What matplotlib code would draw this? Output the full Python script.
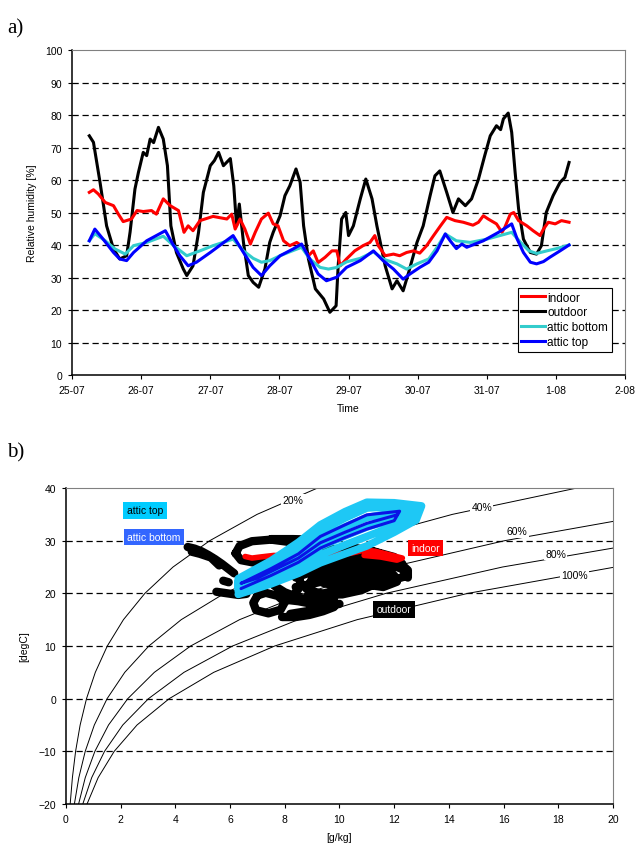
import numpy as np
import matplotlib
matplotlib.use('Agg')
import matplotlib.pyplot as plt

plt.rcParams['font.family'] = ['Liberation Sans', 'DejaVu Sans']

nan = np.nan

# ---------- a) relative humidity time series (x = days since 25-07 00:00) ----------
day_labels = ['25-07', '26-07', '27-07', '28-07', '29-07', '30-07', '31-07', '1-08', '2-08']

outdoor_d = [0.25, 0.31, 0.405, 0.50, 0.60, 0.69, 0.79, 0.84, 0.91, 0.96, 1.03, 1.08, 1.13, 1.18, 1.25,
             1.32, 1.38, 1.43, 1.51, 1.61, 1.66, 1.75, 1.83, 1.90, 2.00, 2.06, 2.12, 2.19, 2.24, 2.29,
             2.34, 2.38, 2.42, 2.48, 2.55, 2.62, 2.70, 2.74, 2.79, 2.86, 2.91, 3.01, 3.08, 3.15, 3.24,
             3.30, 3.35, 3.42, 3.52, 3.64, 3.73, 3.82, 3.85, 3.90, 3.96, 4.00, 4.07, 4.17, 4.25, 4.34,
             4.41, 4.53, 4.63, 4.70, 4.79, 4.87, 4.99, 5.08, 5.18, 5.25, 5.32, 5.42, 5.51, 5.59, 5.69,
             5.78, 5.88, 5.97, 6.05, 6.14, 6.20, 6.24, 6.31, 6.36, 6.41, 6.46, 6.53, 6.63, 6.72, 6.79,
             6.86, 6.96, 7.06, 7.13, 7.19]
outdoor_rh = [73.6, 71.6, 59.3, 45.9, 38.8, 35.7, 36.7, 44.0, 57.2, 62.3, 68.5, 67.5, 72.6, 71.5, 76.2,
              72.6, 64.4, 45.9, 37.7, 32.6, 30.6, 33.6, 43.9, 56.2, 64.4, 66.0, 68.5, 64.4, 65.5, 66.6,
              58.2, 45.9, 52.6, 40.8, 30.6, 28.5, 27.0, 29.5, 32.6, 40.8, 43.9, 49.0, 55.2, 58.2, 63.4,
              59.3, 45.9, 35.7, 26.5, 23.4, 19.3, 21.3, 33.6, 48.0, 50.0, 42.9, 45.9, 54.2, 60.3, 54.2,
              45.9, 33.6, 26.5, 29.0, 25.9, 31.6, 40.8, 45.9, 55.2, 61.3, 62.8, 56.2, 50.0, 54.2, 52.1,
              54.2, 60.3, 67.5, 73.6, 76.7, 75.5, 78.8, 80.6, 74.7, 62.3, 51.1, 41.8, 37.7, 37.2, 39.8,
              50.0, 55.2, 59.3, 60.8, 65.4]

indoor_d = [0.25, 0.31, 0.38, 0.48, 0.60, 0.67, 0.74, 0.86, 0.94, 1.03, 1.15, 1.22, 1.32, 1.42, 1.54,
            1.62, 1.68, 1.75, 1.85, 2.04, 2.24, 2.31, 2.36, 2.43, 2.50, 2.58, 2.65, 2.74, 2.84, 2.91,
            2.98, 3.06, 3.15, 3.25, 3.32, 3.42, 3.49, 3.56, 3.66, 3.76, 3.83, 3.88, 3.97, 4.09, 4.21,
            4.31, 4.38, 4.43, 4.53, 4.65, 4.74, 4.84, 4.94, 5.03, 5.13, 5.23, 5.33, 5.42, 5.54, 5.66,
            5.80, 5.88, 5.95, 6.02, 6.14, 6.22, 6.26, 6.34, 6.39, 6.46, 6.58, 6.67, 6.77, 6.82, 6.89,
            6.99, 7.08, 7.19]
indoor_rh = [56.2, 57.0, 55.7, 53.1, 52.1, 49.5, 47.2, 48.0, 50.6, 50.3, 50.6, 49.5, 54.2, 52.1, 50.6,
             43.9, 45.9, 44.4, 47.5, 48.8, 48.0, 49.5, 44.9, 48.0, 44.9, 40.3, 43.9, 48.0, 49.8, 46.5,
             45.9, 41.3, 39.8, 40.8, 39.8, 36.7, 38.2, 34.6, 36.2, 38.2, 38.2, 33.6, 35.7, 38.2, 39.8,
             40.8, 42.9, 39.8, 36.7, 37.2, 36.7, 37.7, 38.2, 37.5, 39.8, 42.9, 45.9, 48.5, 47.5, 47.0,
             46.1, 47.0, 49.0, 48.0, 46.5, 43.9, 45.4, 49.5, 50.0, 47.5, 45.9, 44.4, 42.9, 44.9, 47.0,
             46.5, 47.5, 47.0]

attic_bottom_d = [0.25, 0.33, 0.48, 0.62, 0.77, 0.89, 1.08, 1.32, 1.47, 1.66, 1.85, 2.04, 2.33, 2.48,
                  2.62, 2.74, 2.86, 3.01, 3.15, 3.32, 3.44, 3.59, 3.71, 3.83, 3.97, 4.17, 4.36, 4.50,
                  4.70, 4.84, 4.99, 5.16, 5.28, 5.40, 5.56, 5.76, 6.00, 6.19, 6.36, 6.49, 6.61, 6.72,
                  6.87, 7.01, 7.19]
attic_bottom_rh = [41.3, 43.5, 41.3, 38.8, 37.2, 39.8, 40.8, 42.7, 39.8, 36.7, 38.2, 39.8, 41.8, 38.2,
                   35.9, 34.7, 35.2, 36.7, 37.9, 39.3, 35.7, 33.1, 32.6, 33.1, 34.8, 35.9, 37.9, 35.7,
                   34.2, 32.6, 34.2, 35.7, 39.3, 43.4, 41.3, 40.8, 41.8, 42.9, 43.9, 40.8, 38.2, 37.4,
                   38.2, 38.9, 40.0]

attic_top_d = [0.25, 0.33, 0.45, 0.60, 0.69, 0.79, 0.89, 1.08, 1.35, 1.47, 1.56, 1.68, 1.80, 2.00,
               2.33, 2.48, 2.62, 2.74, 2.86, 3.01, 3.20, 3.32, 3.44, 3.56, 3.68, 3.83, 3.97, 4.17,
               4.36, 4.50, 4.65, 4.79, 4.89, 5.03, 5.16, 5.28, 5.40, 5.47, 5.56, 5.64, 5.71, 5.95,
               6.17, 6.36, 6.44, 6.53, 6.63, 6.72, 6.82, 6.91, 7.06, 7.19]
attic_top_rh = [41.3, 44.9, 41.8, 37.7, 35.7, 35.2, 37.7, 41.3, 44.4, 39.8, 36.7, 33.6, 34.7, 37.7,
                42.9, 37.7, 33.1, 30.6, 33.6, 36.7, 38.8, 40.3, 35.7, 31.1, 29.0, 30.1, 33.1, 35.2,
                38.2, 35.2, 32.6, 29.5, 31.1, 33.1, 34.7, 38.2, 43.4, 41.3, 38.9, 40.3, 39.3, 41.3,
                43.9, 46.5, 41.8, 37.7, 34.7, 34.2, 34.9, 36.2, 38.2, 40.0]

# ---------- b) psychrometric chart ----------
rh_temps = [-20, -15, -10, -5, 0, 5, 10, 15, 20, 25, 30, 35, 40]
rh_curves = {
    '20%': [0.154, 0.235, 0.352, 0.518, 0.751, 1.073, 1.511, 2.101, 2.885, 3.914, 5.257, 6.988, 9.198],
    '40%': [0.308, 0.470, 0.704, 1.037, 1.504, 2.150, 3.030, 4.214, 5.795, 7.882, 10.60, 14.13, 18.68],
    '60%': [0.462, 0.705, 1.057, 1.556, 2.260, 3.231, 4.558, 6.346, 8.733, 11.89, 16.04, 21.45],
    '80%': [0.616, 0.940, 1.410, 2.077, 3.017, 4.315, 6.092, 8.488, 11.70, 15.96, 21.58],
    '100%': [0.771, 1.176, 1.764, 2.598, 3.775, 5.403, 7.631, 10.646, 14.698, 20.08],
}
rh_label_pos = {'20%': (8.3, 37.7), '40%': (15.2, 36.4), '60%': (16.5, 31.8),
                '80%': (17.9, 27.5), '100%': (18.6, 23.5)}

outdoor_x = [4.45, 4.7, 4.95, 5.2, 5.45, 5.7, 5.95, 6.15, nan,
             4.6, 4.9, 5.3, 5.6, nan,
             6.2, 6.35, 6.8, 7.5, 8.1, 8.4, 8.1, 7.5, 6.9, 6.4, 6.2, nan,
             7.5, 8.3, 9.0, nan,
             5.75, 5.95, nan,
             5.5, 5.9, 6.3, 6.6, nan,
             7.0, 6.85, 6.95, 7.4, 7.85, 8.0, 7.75, 7.3, 7.0, nan,
             7.9, 8.4, 8.9, 9.4, 9.8, nan,
             8.2, 8.8, 9.4, 10.0, nan,
             8.3, 8.6, 8.5, 8.8, 9.5, 10.3, 11.0, 11.7, 12.3, 12.45, 12.0, 11.4, 10.8, 10.1, 9.4, 8.8,
             9.0, 9.6, 10.4, 11.2, 11.7, 11.2, 10.5, 9.9, 9.6, 10.0, 10.8, nan,
             9.0, 9.8, 10.6, 11.3, 12.0, 12.3, nan,
             8.4, 9.0, 9.4, 10.2, 10.8, 11.6, 12.1, nan,
             7.6, 8.0, 8.6, 9.2, 9.8, nan,
             8.3, 8.9, 9.6, 10.4, 11.2, 11.8, 12.2, 12.5, 12.5, nan,
             8.4, 9.2, 10.0, 10.9, 11.5, 11.9, nan,
             8.4, 9.0, 9.8, 10.6, 11.3, 12.0, nan,
             8.8, 9.6, 10.3, 10.9, nan,
             8.0, 8.5, 9.0]
outdoor_t = [28.8, 28.5, 28.0, 27.3, 26.5, 25.6, 24.6, 23.8, nan,
             27.9, 27.5, 26.8, 25.3, nan,
             27.6, 29.0, 29.9, 30.2, 29.8, 28.8, 27.4, 26.2, 25.8, 26.3, 27.6, nan,
             30.3, 30.3, 30.2, nan,
             22.4, 22.1, nan,
             20.3, 20.0, 19.7, 19.9, nan,
             19.6, 18.2, 16.8, 16.2, 16.9, 18.3, 19.5, 20.1, 19.6, nan,
             15.5, 15.5, 15.9, 16.6, 17.4, nan,
             16.1, 16.6, 17.3, 18.0, nan,
             19.5, 21.5, 23.5, 25.0, 26.4, 27.3, 27.0, 25.8, 24.6, 23.3, 22.6, 22.0, 20.6, 19.8, 19.8, 20.8,
             22.8, 24.2, 25.2, 24.6, 23.6, 22.8, 22.5, 21.5, 22.5, 23.6, 23.8, nan,
             27.6, 28.4, 28.6, 27.9, 26.9, 25.6, nan,
             24.5, 24.0, 22.0, 21.0, 21.8, 21.2, 22.2, nan,
             21.5, 20.2, 19.0, 18.5, 19.0, nan,
             25.0, 26.2, 27.6, 28.4, 28.0, 27.0, 25.8, 24.4, 23.0, nan,
             23.0, 24.5, 26.0, 26.2, 25.3, 24.0, nan,
             21.2, 21.8, 22.8, 23.0, 23.5, 23.4, nan,
             19.3, 20.2, 20.2, 21.0, nan,
             18.8, 18.5, 18.0]

indoor_x = [6.55, 6.8, 7.1, 7.6, 8.5, 9.5, 10.4, 10.9, 11.3, 11.7, 12.0, 12.3, 12.1, 11.5, 10.9]
indoor_t = [27.0, 26.7, 26.9, 27.2, 27.0, 27.3, 27.6, 28.2, 28.0, 27.5, 27.1, 26.7, 26.3, 26.9, 27.2]

# attic top: daily loops, forward and back passes across the band
atop_x = [6.3, 7.5, 8.5, 9.3, 10.2, 11.0, 12.0, 12.8,
          13.0, 12.0, 11.0, 10.2, 9.3, 8.5, 7.5, 6.3,
          6.3, 7.5, 8.5, 9.3, 10.2, 11.0, 12.0, 12.8,
          12.8, 12.0, 11.0, 10.2, 9.3, 8.5, 7.5, 6.3,
          6.3, 7.5, 8.5, 9.3, 10.2, 11.0, 12.0, 12.8,
          12.8, 12.0, 11.0, 10.2, 9.3, 8.5, 7.5, 6.4]
atop_t = [19.8, 21.8, 23.8, 25.8, 27.5, 29.0, 31.6, 33.9,
          36.6, 37.2, 37.3, 35.5, 33.0, 29.7, 26.2, 22.8,
          20.4, 22.75, 25.05, 27.3, 29.2, 30.8, 32.8, 34.5,
          36.4, 36.5, 36.2, 34.3, 31.9, 28.4, 25.5, 22.3,
          21.05, 23.6, 26.1, 28.9, 30.9, 32.6, 34.1, 35.2,
          35.8, 35.3, 34.4, 32.6, 30.4, 27.2, 24.5, 21.7]

# attic bottom: narrower loops inside the attic-top band
abot_x = [6.4, 7.5, 8.5, 9.3, 10.2, 11.0, 12.0,
          12.2, 11.0, 10.2, 9.3, 8.5, 7.5, 6.4,
          7.0, 8.5, 9.3, 10.2, 11.0, 12.1]
abot_t = [20.9, 23.4, 25.9, 28.6, 30.6, 32.2, 33.8,
          35.6, 34.9, 33.0, 30.8, 27.5, 24.7, 21.9,
          22.9, 26.7, 29.6, 31.6, 33.3, 34.9]

box_labels = [('attic top', 2.89, 35.8, '#00CCFF', 'black'),
              ('attic bottom', 3.22, 30.7, '#3366FF', 'white'),
              ('indoor', 13.15, 28.6, '#FF0000', 'white'),
              ('outdoor', 12.0, 17.0, 'black', 'white')]

fig = plt.figure(figsize=(6.38, 8.53), dpi=100)
fs = 7.5
dash = (0, (5, 3))

# ---------- a) ----------
ax1 = fig.add_axes([0.1129, 0.5592, 0.8668, 0.381])
ax1.plot(outdoor_d, outdoor_rh, color='black', lw=2.2, label='outdoor', zorder=3)
ax1.plot(indoor_d, indoor_rh, color='#FF0000', lw=2.2, label='indoor', zorder=4)
ax1.plot(attic_bottom_d, attic_bottom_rh, color='#33CCCC', lw=2.2, label='attic bottom', zorder=5)
ax1.plot(attic_top_d, attic_top_rh, color='#0000FF', lw=2.2, label='attic top', zorder=6)
ax1.set_xlim(0, 8)
ax1.set_ylim(0, 100)
ax1.set_xticks(range(len(day_labels)))
ax1.set_xticklabels(day_labels)
ax1.set_yticks(range(0, 101, 10))
for v in range(10, 100, 10):
    ax1.axhline(v, color='black', lw=0.9, linestyle=dash, zorder=1)
ax1.axhline(100, color='#808080', lw=1.2, linestyle=dash, zorder=1)
ax1.set_ylabel('Relative humidity [%]', fontsize=fs, labelpad=6)
ax1.set_xlabel('Time', fontsize=fs, labelpad=6)
h, l = ax1.get_legend_handles_labels()
order = [1, 0, 2, 3]
leg = ax1.legend([h[i] for i in order], [l[i] for i in order], loc='lower right',
                 bbox_to_anchor=(0.976, 0.071), fontsize=8.5, frameon=True, fancybox=False,
                 edgecolor='black', framealpha=1, borderpad=0.3, labelspacing=0.25,
                 handlelength=2.0, handletextpad=0.2, borderaxespad=0)
leg.get_frame().set_linewidth(0.8)

# ---------- b) ----------
ax2 = fig.add_axes([0.1034, 0.0563, 0.8574, 0.3704])
for name, xs in rh_curves.items():
    ax2.plot(xs, rh_temps[:len(xs)], color='black', lw=0.7, zorder=2)
    px, py = rh_label_pos[name]
    ax2.text(px, py, name, fontsize=fs, ha='center', va='center', zorder=3,
             bbox=dict(facecolor='white', edgecolor='none', pad=1.0))
ax2.plot(outdoor_x, outdoor_t, color='black', lw=6, solid_capstyle='round',
         solid_joinstyle='round', zorder=4)
ax2.plot(indoor_x, indoor_t, color='#FF0000', lw=4, solid_capstyle='round', zorder=5)
ax2.plot(atop_x, atop_t, color='#1EC8F5', lw=5.5, solid_capstyle='round',
         solid_joinstyle='round', zorder=6)
ax2.plot(abot_x, abot_t, color='#0A14E6', lw=2.2, solid_capstyle='round', zorder=7)
for txt, bx, by, fc, tc in box_labels:
    ax2.text(bx, by, txt, fontsize=fs, color=tc, ha='center', va='center', zorder=8,
             bbox=dict(facecolor=fc, edgecolor='none', pad=2.5))
ax2.set_xlim(0, 20)
ax2.set_ylim(-20, 40)
ax2.set_xticks(range(0, 21, 2))
ax2.set_yticks(range(-20, 41, 10))
for v in range(-10, 40, 10):
    ax2.axhline(v, color='black', lw=0.9, linestyle=dash, zorder=1)
ax2.axhline(40, color='#808080', lw=1.2, linestyle=dash, zorder=1)
ax2.set_ylabel('[degC]', fontsize=fs, labelpad=7)
ax2.set_xlabel('[g/kg]', fontsize=fs, labelpad=6)

for ax in (ax1, ax2):
    ax.tick_params(labelsize=fs, length=3, width=0.8, direction='out', pad=4)
    ax.spines['left'].set_linewidth(1.1)
    ax.spines['bottom'].set_linewidth(1.1)
    ax.spines['top'].set_color('#808080')
    ax.spines['right'].set_color('#808080')
    ax.spines['top'].set_linewidth(0.8)
    ax.spines['right'].set_linewidth(0.8)

fig.text(0.011, 0.978, 'a)', fontsize=15, family='Liberation Serif', va='top')
fig.text(0.011, 0.48, 'b)', fontsize=15, family='Liberation Serif', va='top')

fig.savefig('out.png', dpi=100)
